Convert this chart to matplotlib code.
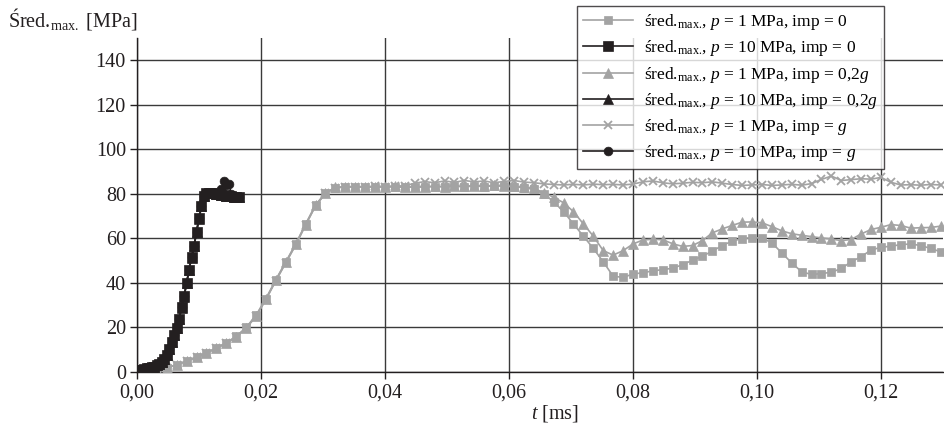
import numpy as np
import matplotlib
matplotlib.use("Agg")
import matplotlib.pyplot as plt

plt.rcParams['font.family'] = ['Liberation Serif', 'DejaVu Serif']
plt.rcParams['mathtext.fontset'] = 'custom'
plt.rcParams['mathtext.rm'] = 'Liberation Serif'
plt.rcParams['mathtext.it'] = 'Liberation Serif:italic'

# sampling steps of the two simulations [ms]
dt_low = 0.0016
dt_high = 0.0004

# p = 1 MPa, imp = 0
s1_imp0 = [0, 0.3, 0.9, 2.0, 3.3, 5.0, 6.8, 8.7, 10.8, 13.2, 16.0, 20.0, 25.5, 33.0,
           41.5, 49.5, 57.5, 66.5, 75.0, 80.5, 82.8, 83.0, 83.2, 83.0, 83.1, 83.0,
           83.2, 82.9, 83.1, 83.0, 83.3, 83.1, 83.4, 83.2, 83.5, 83.3, 83.6, 83.4,
           83.2, 82.8, 82.0, 80.0, 76.5, 72.0, 66.5, 61.0, 55.5, 49.5, 43.0, 42.5,
           44.0, 44.6, 45.4, 46.0, 46.6, 48.2, 50.2, 52.0, 54.3, 56.8, 58.8, 59.9,
           60.4, 60.1, 58.0, 53.5, 49.0, 45.0, 43.8, 44.2, 44.8, 46.5, 49.5, 51.8,
           54.8, 56.0, 56.5, 57.2, 57.5, 56.8, 55.5, 54.0]

# p = 1 MPa, imp = 0,2g
s1_imp02 = [0, 0.2, 0.8, 1.9, 3.2, 4.9, 6.7, 8.6, 10.7, 13.0, 15.8, 19.8, 25.2, 32.8,
            41.2, 49.2, 57.3, 66.2, 74.8, 80.3, 82.9, 83.1, 83.3, 83.1, 83.3, 83.2,
            83.4, 83.1, 83.3, 83.2, 83.5, 83.3, 83.6, 83.4, 83.7, 83.5, 83.8, 83.6,
            83.4, 83.0, 82.5, 80.5, 78.5, 76.0, 72.0, 66.5, 61.0, 54.5, 52.5, 54.5,
            57.5, 59.3, 59.6, 59.4, 57.6, 56.4, 56.8, 59.0, 62.5, 64.3, 65.8, 67.3,
            67.4, 67.0, 65.3, 63.4, 62.1, 61.4, 60.8, 60.2, 59.7, 59.0, 59.5, 62.0,
            64.0, 65.0, 66.2, 65.8, 64.6, 64.8, 64.9, 65.5]

# p = 1 MPa, imp = g
s1_impg = [0, 0.2, 0.8, 1.9, 3.1, 4.8, 6.6, 8.5, 10.6, 13.0, 15.7, 19.6, 25.0, 32.5,
           41.0, 49.0, 57.0, 66.0, 74.6, 80.2, 82.8, 83.2, 83.3, 83.2, 83.4, 83.3,
           83.5, 83.6, 84.8, 85.5, 85.0, 85.8, 85.2, 86.0, 85.4, 85.8, 85.0, 85.6,
           86.0, 85.3, 85.0, 84.5, 84.2, 84.0, 84.3, 84.0, 84.4, 84.1, 84.3, 84.0,
           84.4, 85.4, 85.8, 85.0, 84.5, 84.8, 85.2, 85.0, 85.4, 84.8, 84.2, 83.8,
           84.0, 84.2, 83.8, 84.0, 84.3, 83.9, 84.6, 86.5, 88.0, 86.0, 86.4, 86.8,
           86.6, 87.4, 85.2, 84.0, 84.1, 83.9, 84.2, 84.0]

# p = 10 MPa, imp = 0
s10_imp0 = [0.5, 0.7, 0.9, 1.2, 1.6, 1.9, 2.1, 2.4, 3.0, 3.8, 4.6, 6.0, 7.8, 10.5,
            13.5, 16.5, 19.8, 24.0, 29.0, 34.0, 40.0, 46.0, 51.5, 56.5, 63.0, 69.0,
            74.5, 79.0, 80.5, 80.6, 80.5, 80.3, 80.0, 79.8, 79.6, 79.4, 79.1, 79.0,
            78.9, 78.7, 78.6, 78.5]

# p = 10 MPa, imp = 0,2g
s10_imp02 = [0.5, 0.7, 0.9, 1.2, 1.6, 1.9, 2.1, 2.4, 3.0, 3.8, 4.6, 6.0, 7.8, 10.4,
             13.4, 16.4, 19.7, 23.9, 28.9, 33.9, 39.9, 45.9, 51.4, 56.4, 62.9, 68.9,
             74.4, 78.9, 80.4, 80.5, 80.5, 80.4, 80.1, 79.9, 79.7, 79.5, 79.2, 79.1,
             79.0, 78.8, 78.7, 78.6]

# p = 10 MPa, imp = g
s10_impg = [0.5, 0.7, 0.9, 1.2, 1.6, 1.9, 2.1, 2.4, 3.0, 3.8, 4.6, 6.0, 7.8, 10.5,
            13.5, 16.5, 19.8, 24.0, 29.0, 34.0, 40.0, 46.0, 51.5, 56.5, 63.0, 69.0,
            74.5, 79.0, 80.5, 80.6, 80.5, 80.4, 80.2, 80.6, 82.0, 85.6, 84.2, 84.6,
            80.0, 79.0, 78.7, 78.6]

x_ticks = [0.0, 0.02, 0.04, 0.06, 0.08, 0.10, 0.12]
x_tick_labels = ["0,00", "0,02", "0,04", "0,06", "0,08", "0,10", "0,12"]
y_ticks = [0, 20, 40, 60, 80, 100, 120, 140]
y_tick_labels = ["0", "20", "40", "60", "80", "100", "120", "140"]

t_low = np.arange(len(s1_imp0)) * dt_low
t_high = np.arange(len(s10_imp0)) * dt_high

GRAY = '#a3a3a3'
BLACK = '#231f20'
SUB = r'śred.$_{\mathrm{max.}}\!$, $p$ = '

fig = plt.figure(figsize=(9.45, 4.28), dpi=100)
ax = fig.add_axes([137 / 945, 56 / 428, 806 / 945, 334 / 428])

series = [
    (t_low, s1_imp0, GRAY, 's', 6.3, SUB + '1 MPa, imp = 0', 2),
    (t_high, s10_imp0, BLACK, 's', 6.8, SUB + '10 MPa, imp = 0', 5),
    (t_low, s1_imp02, GRAY, '^', 6.8, SUB + '1 MPa, imp = 0,2$g$', 3),
    (t_high, s10_imp02, BLACK, '^', 6.8, SUB + '10 MPa, imp = 0,2$g$', 4),
    (t_low, s1_impg, GRAY, 'x', 6.3, SUB + '1 MPa, imp = $g$', 3.5),
    (t_high, s10_impg, BLACK, 'o', 6.3, SUB + '10 MPa, imp = $g$', 6),
]
for t, v, c, m, ms, lab, z in series:
    ax.plot(t, v, color=c, marker=m, markersize=ms, linewidth=1.2,
            markeredgewidth=1.3 if m == 'x' else 0.5, markeredgecolor=c,
            label=lab, zorder=z)

ax.set_xlim(0, 0.13)
ax.set_ylim(0, 150)
ax.set_xticks(x_ticks)
ax.set_xticklabels(x_tick_labels)
ax.set_yticks(y_ticks)
ax.set_yticklabels(y_tick_labels)
ax.tick_params(axis='both', labelsize=14.5, colors='#231f20', length=5, width=1,
               direction='out', pad=3)
ax.grid(True, color='#3a3a3a', linewidth=1.0, zorder=0)
ax.set_axisbelow(True)
for side in ('top', 'right'):
    ax.spines[side].set_visible(False)
for side in ('left', 'bottom'):
    ax.spines[side].set_color('#231f20')
    ax.spines[side].set_linewidth(1.0)

fig.text(8 / 945, 1 - 27 / 428, r'Śred.$_{\mathrm{max.}}$ [MPa]', fontsize=14.5,
         color='#231f20', va='baseline', ha='left')
fig.text(555 / 945, 1 - 418 / 428, r'$t$ [ms]', fontsize=14.5,
         color='#231f20', va='baseline', ha='center')

leg = ax.legend(loc='upper left', bbox_to_anchor=(577 / 945, 1 - 6 / 428),
                bbox_transform=fig.transFigure, borderaxespad=0, fontsize=12.5,
                frameon=True, fancybox=False, edgecolor='#231f20',
                handlelength=2.9, handletextpad=0.6, labelspacing=0.36,
                borderpad=0.35)
leg.get_frame().set_linewidth(1.0)
leg.set_zorder(10)

fig.savefig('out.png', dpi=100)
